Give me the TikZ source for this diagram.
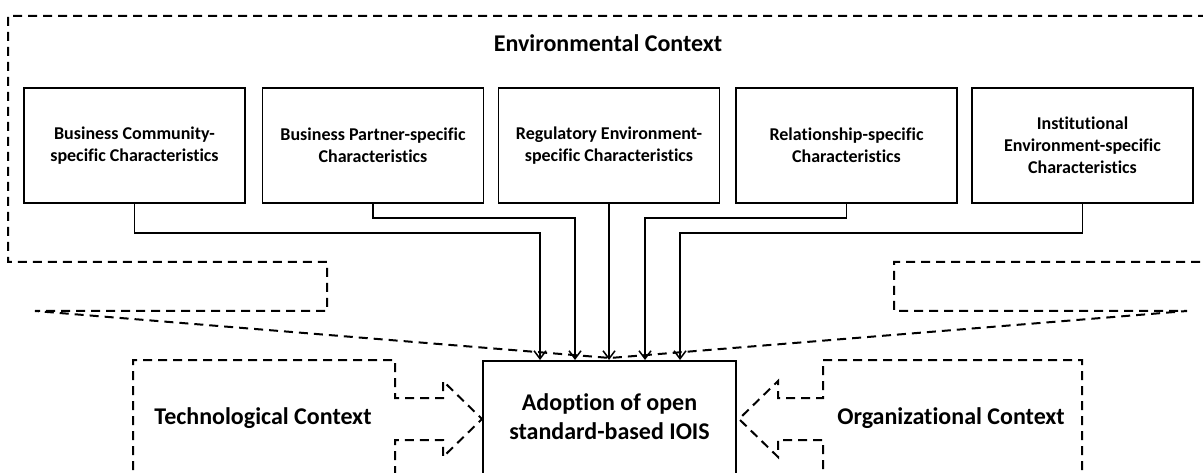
\documentclass[tikz,border=0pt]{standalone}
\usepackage{fontspec}
\setmainfont{Carlito}[Ligatures=NoCommon]
\usetikzlibrary{arrows.meta}
\begin{document}
\begin{tikzpicture}[x=1pt,y=-1pt,
  ctx/.style={draw, line width=2pt, dash pattern=on 9pt off 6pt},
  boxsty/.style={draw, line width=1.8pt, minimum width=221pt, minimum height=115pt, align=center, inner sep=0pt, font=\bfseries\fontsize{18}{22}\selectfont},
  big/.style={align=center, font=\bfseries\fontsize{24}{29}\selectfont},
  arr/.style={line width=1.5pt, -{Straight Barb[length=8pt,width=12pt,line width=1.5pt]}}]
\clip (0,0) rectangle (1203,473);
\fill[white] (0,0) rectangle (1203,473);
% environmental context outline
\draw[ctx] (1215,262) -- (894,262) -- (894,311) -- (1187,311) -- (610,358) -- (35,311) -- (327,311) -- (327,262) -- (8,262) -- (8,16) -- (1215,16);
\node[big] (envt) at (608,43) {Environmental Context};
% characteristic boxes
\node[boxsty] (b1) at (134.5,145.5) {Business Community-\\specific Characteristics};
\node[boxsty] (b2) at (373,145.5) {Business Partner-specific\\Characteristics};
\node[boxsty] (b3) at (609,145.5) {Regulatory Environment-\\specific Characteristics};
\node[boxsty] (b4) at (846.5,145.5) {Relationship-specific\\Characteristics};
\node[boxsty] (b5) at (1082.5,145.5) {Institutional\\Environment-specific\\Characteristics};
% adoption box
\node[draw, line width=2pt, minimum width=253pt, minimum height=140pt, anchor=north] (adopt) at (609.5,360) {};
\node[big] (adoptt) at (609.5,417) {Adoption of open\\standard-based IOIS};
\coordinate (t1) at (540,360);
\coordinate (t2) at (575,360);
\coordinate (t3) at (609,360);
\coordinate (t4) at (645,360);
\coordinate (t5) at (680,360);
\draw[arr] (b1.south) -- ++(0,29) -| (t1);
\draw[arr] (b2.south) -- ++(0,14) -| (t2);
\draw[arr] (b3.south) -- (t3);
\draw[arr] (b4.south) -- ++(0,14) -| (t4);
\draw[arr] (b5.south) -- ++(0,29) -| (t5);
% technological context
\draw[ctx] (133,485) -- (133,360) -- (395,360) -- (395,398) -- (443,398) -- (443,381) -- (482,419) -- (443,457) -- (443,440) -- (395,440) -- (395,485);
\node[big] (tech) at (263,418) {Technological Context};
% organizational context
\draw[ctx] (1082,485) -- (1082,360) -- (823,360) -- (823,398) -- (778,398) -- (778,381) -- (739,419) -- (778,457) -- (778,440) -- (823,440) -- (823,485);
\node[big] (org) at (951,418) {Organizational Context};
\end{tikzpicture}
\end{document}
